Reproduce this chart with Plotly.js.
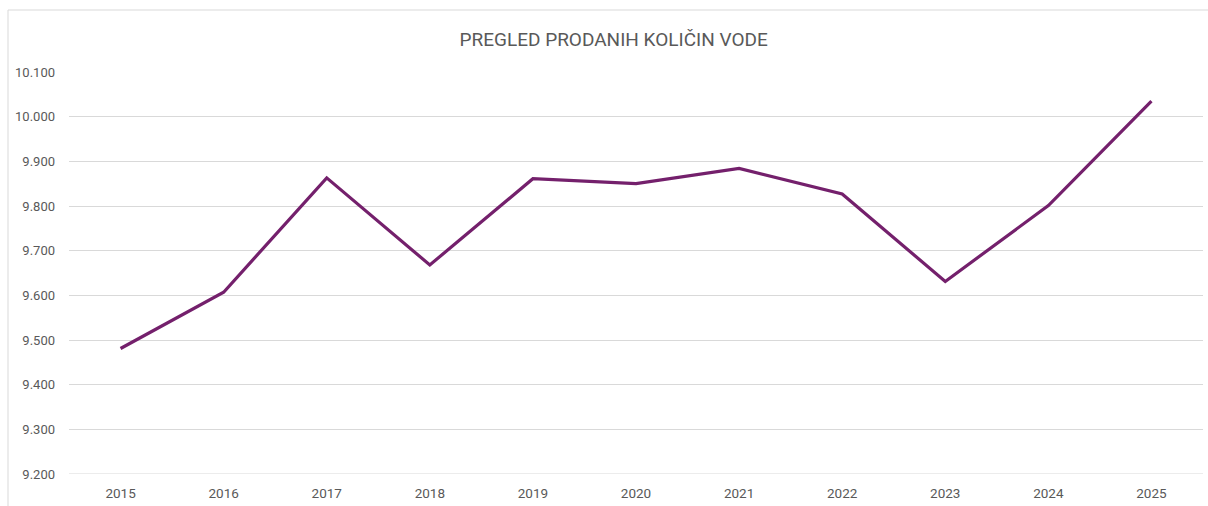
<!DOCTYPE html>
<html>
<head>
<meta charset="utf-8">
<script src="https://cdn.plot.ly/plotly-3.0.1.min.js"></script>
<style>
html,body{margin:0;padding:0;background:#fff;}
#chart{width:1208px;height:506px;}
</style>
</head>
<body>
<div id="chart"></div>
<script>
const years = ['2015','2016','2017','2018','2019','2020','2021','2022','2023','2024','2025'];
const quantities = [9481, 9607, 9863, 9668, 9861, 9850, 9884, 9827, 9631, 9801, 10035];
const yTicks = [9200, 9300, 9400, 9500, 9600, 9700, 9800, 9900, 10000, 10100];
const chartTitle = 'PREGLED PRODANIH KOLIČIN VODE';

const fontFam = '"Liberation Sans Narrow", "Roboto", "Liberation Sans", sans-serif';

const trace = {
  type: 'scatter',
  mode: 'lines',
  x: years,
  y: quantities,
  line: {color: '#74206C', width: 3.2},
  hoverinfo: 'x+y'
};

const layout = {
  width: 1208,
  height: 506,
  margin: {l: 69, r: 5, t: 72, b: 32},
  paper_bgcolor: '#ffffff',
  plot_bgcolor: '#ffffff',
  separators: ',.',
  showlegend: false,
  title: {
    text: chartTitle,
    font: {family: fontFam, size: 19, color: '#595959'},
    x: 0.508, xanchor: 'center',
    y: 0.923, yanchor: 'middle'
  },
  xaxis: {
    type: 'category',
    range: [-0.5, 10.5],
    showgrid: false,
    zeroline: false,
    showline: false,
    ticks: '',
    ticklen: 0,
    ticklabelstandoff: 9,
    tickfont: {family: fontFam, size: 13.5, color: '#595959'},
    fixedrange: true
  },
  yaxis: {
    range: [yTicks[0], yTicks[yTicks.length - 1]],
    tickvals: yTicks,
    tickformat: ',d',
    showgrid: true,
    gridcolor: '#d9d9d9',
    gridwidth: 1,
    zeroline: false,
    showline: false,
    ticks: '',
    ticklabelstandoff: 13,
    tickfont: {family: fontFam, size: 13, color: '#595959'},
    fixedrange: true
  },
  shapes: [
    {type: 'line', xref: 'paper', yref: 'y',
     x0: 0, x1: 1, y0: yTicks[0], y1: yTicks[0],
     layer: 'below',
     line: {color: '#d9d9d9', width: 1}},
    {type: 'line', xref: 'paper', yref: 'paper',
     x0: (8 - 69) / 1134, x1: 1.1, y0: (474 - 10) / 402, y1: (474 - 10) / 402,
     line: {color: '#d9d9d9', width: 1}},
    {type: 'line', xref: 'paper', yref: 'paper',
     x0: (8 - 69) / 1134, x1: (8 - 69) / 1134, y0: (474 - 10) / 402, y1: -0.2,
     line: {color: '#d9d9d9', width: 1}}
  ]
};

Plotly.newPlot('chart', [trace], layout, {displayModeBar: false, staticPlot: true});
</script>
</body>
</html>
